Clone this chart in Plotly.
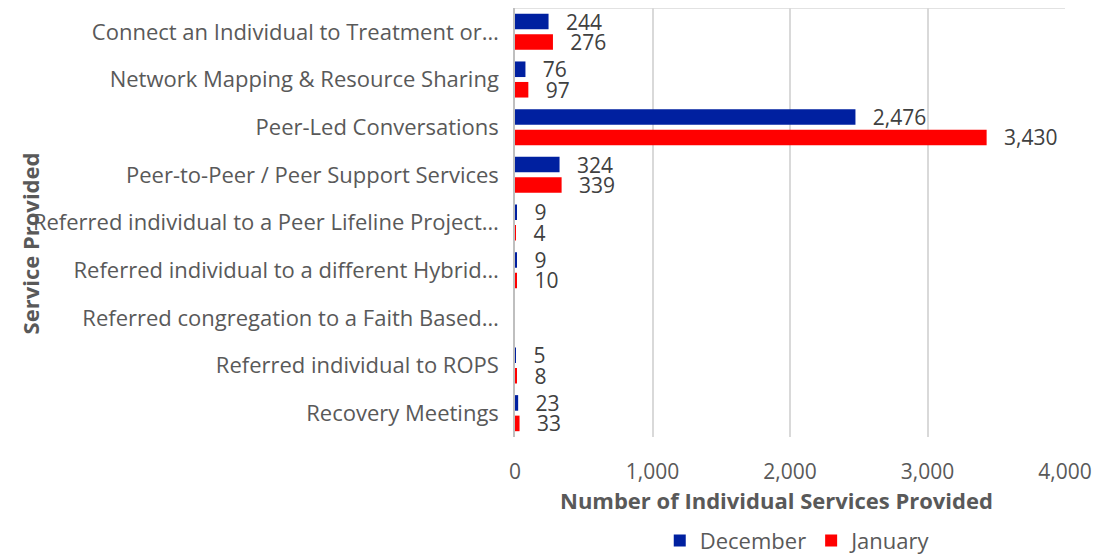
import plotly.graph_objects as go

categories = [
    "Connect an Individual to Treatment or…",
    "Network Mapping & Resource Sharing",
    "Peer-Led Conversations",
    "Peer-to-Peer / Peer Support Services",
    "Referred individual to a Peer Lifeline Project…",
    "Referred individual to a different Hybrid…",
    "Referred congregation to a Faith Based…",
    "Referred individual to ROPS",
    "Recovery Meetings",
]
december = [244, 76, 2476, 324, 9, 9, None, 5, 23]
january = [276, 97, 3430, 339, 4, 10, None, 8, 33]
x_ticks = [0, 1000, 2000, 3000, 4000]
x_ticklabels = ["0", "1,000", "2,000", "3,000", "4,000"]

FONT = "Open Sans"
pad = "\u00a0\u00a0\u2009"

fig = go.Figure()
for name, vals, color in [("December", december, "#0020A0"), ("January", january, "#FF0000")]:
    fig.add_trace(go.Bar(
        name=name, y=categories, x=vals, orientation="h",
        marker=dict(color=color, line=dict(width=0)),
        texttemplate=pad + "%{x:,}", textposition="outside", constraintext="none",
        textfont=dict(family=FONT, size=21, color="#404040"), cliponaxis=False,
    ))

# page body has an 8px margin, so the figure is sized to fit the 1110x555 window
fig.update_layout(
    width=1102, height=547,
    margin=dict(l=507, r=45, t=0, b=118, autoexpand=False),
    barmode="group", bargap=0.14, bargroupgap=0.24,
    plot_bgcolor="white", paper_bgcolor="white",
    font=dict(family=FONT, size=21, color="#595959"),
    legend=dict(orientation="h", x=0.515, xanchor="center", y=-0.242, yanchor="middle",
                font=dict(family=FONT, size=22, color="#595959"),
                itemwidth=30, tracegroupgap=0),
    xaxis=dict(range=[0, 4000], tickvals=x_ticks, ticktext=x_ticklabels,
               showgrid=True, gridcolor="#d9d9d9", gridwidth=1.5, zeroline=False,
               showline=False, ticks="", tickfont=dict(size=21, color="#595959"),
               ticklabelstandoff=20, automargin=False),
    yaxis=dict(autorange="reversed", showline=True, linecolor="#bfbfbf", linewidth=1.5,
               ticks="", tickfont=dict(size=22, color="#595959"), ticklabelstandoff=10,
               automargin=False),
    showlegend=True,
)

fig.add_shape(type="line", xref="paper", yref="paper", x0=0, x1=1, y0=1, y1=1,
              line=dict(color="#d9d9d9", width=1.5))

fig.add_annotation(text="<b>Number of Individual Services Provided</b>", xref="paper", yref="paper",
                   x=0.476, y=-0.1465, xanchor="center", yanchor="middle",
                   showarrow=False, font=dict(family=FONT, size=22, color="#595959"))
fig.add_annotation(text="<b>Service Provided</b>", xref="paper", yref="paper",
                   x=-0.882, y=0.451, xanchor="center", yanchor="middle", textangle=-90,
                   showarrow=False, font=dict(family=FONT, size=22, color="#595959"))

fig.write_html("out.html")
